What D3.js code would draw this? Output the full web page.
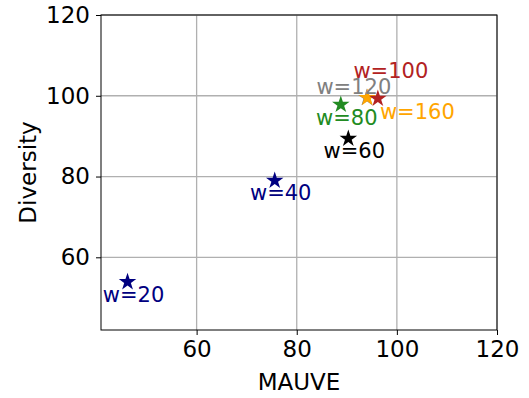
<!DOCTYPE html>
<html>
<head>
<meta charset="utf-8">
<script src="https://cdn.jsdelivr.net/npm/d3@7"></script>
<style>
  body { margin: 0; background: #fff; }
  text { font-family: "DejaVu Sans", sans-serif; }
</style>
</head>
<body>
<div id="chart"></div>
<script>
// window sizes, in drawing order (gray is hidden under orange)
const labels = ['w=20', 'w=40', 'w=60', 'w=80', 'w=120', 'w=160', 'w=100'];
const mauve = [46.2, 75.6, 90.3, 88.8, 94.0, 94.1, 96.2];
const diversity = [53.9, 79.0, 89.4, 97.8, 99.5, 99.5, 99.3];
const colors = ['#000080', '#000080', '#000000', '#228B22', '#808080', '#FFA500', '#B22222'];
// annotation offsets (px) relative to each point
const labelDx = [6, 6, 6, 6, -13, 50, 13];
const labelDy = [13, 12, 12, 13, -11, 14, -28];

const xTicks = [60, 80, 100, 120];
const yTicks = [60, 80, 100, 120];

const width = 529, height = 398;
const margin = { top: 15, right: 32, bottom: 68, left: 101 };

const svg = d3.select('#chart')
  .append('svg')
  .attr('width', width)
  .attr('height', height);

const x = d3.scaleLinear()
  .domain([40.9, 120])
  .range([margin.left, width - margin.right]);

const y = d3.scaleLinear()
  .domain([42, 120])
  .range([height - margin.bottom, margin.top]);

// grid
svg.append('g')
  .selectAll('line')
  .data(xTicks)
  .join('line')
  .attr('x1', d => x(d)).attr('x2', d => x(d))
  .attr('y1', y.range()[0]).attr('y2', y.range()[1])
  .attr('stroke', '#b0b0b0')
  .attr('stroke-width', 1.3);

svg.append('g')
  .selectAll('line')
  .data(yTicks)
  .join('line')
  .attr('y1', d => y(d)).attr('y2', d => y(d))
  .attr('x1', x.range()[0]).attr('x2', x.range()[1])
  .attr('stroke', '#b0b0b0')
  .attr('stroke-width', 1.3);

// axes
const xAxis = svg.append('g')
  .attr('transform', `translate(0,${y.range()[0]})`)
  .call(d3.axisBottom(x).tickValues(xTicks).tickSize(5).tickPadding(6));

const yAxis = svg.append('g')
  .attr('transform', `translate(${x.range()[0]},0)`)
  .call(d3.axisLeft(y).tickValues(yTicks).tickSize(5).tickPadding(6));

[xAxis, yAxis].forEach(a => {
  a.select('.domain').remove();
  a.selectAll('text')
    .attr('font-size', '23px')
    .attr('fill', '#000')
    .style('font-family', '"DejaVu Sans", sans-serif');
  a.selectAll('line').attr('stroke', '#000').attr('stroke-width', 1);
});

// frame
svg.append('rect')
  .attr('x', x.range()[0])
  .attr('y', y.range()[1])
  .attr('width', x.range()[1] - x.range()[0])
  .attr('height', y.range()[0] - y.range()[1])
  .attr('fill', 'none')
  .attr('stroke', '#000')
  .attr('stroke-width', 1);

// axis titles
svg.append('text')
  .attr('x', (x.range()[0] + x.range()[1]) / 2)
  .attr('y', 390)
  .attr('text-anchor', 'middle')
  .attr('font-size', '23px')
  .text('MAUVE');

svg.append('text')
  .attr('transform', `translate(36,${(y.range()[0] + y.range()[1]) / 2}) rotate(-90)`)
  .attr('text-anchor', 'middle')
  .attr('font-size', '23px')
  .text('Diversity');

// points
const star = d3.symbol().type(d3.symbolStar).size(95);

svg.append('g')
  .selectAll('path')
  .data(labels)
  .join('path')
  .attr('d', star)
  .attr('transform', (d, i) => `translate(${x(mauve[i])},${y(diversity[i])})`)
  .attr('fill', (d, i) => colors[i]);

svg.append('g')
  .selectAll('text')
  .data(labels)
  .join('text')
  .attr('x', (d, i) => x(mauve[i]) + labelDx[i])
  .attr('y', (d, i) => y(diversity[i]) + labelDy[i])
  .attr('dy', '0.35em')
  .attr('text-anchor', 'middle')
  .attr('font-size', '21px')
  .attr('fill', (d, i) => colors[i])
  .text(d => d);
</script>
</body>
</html>
